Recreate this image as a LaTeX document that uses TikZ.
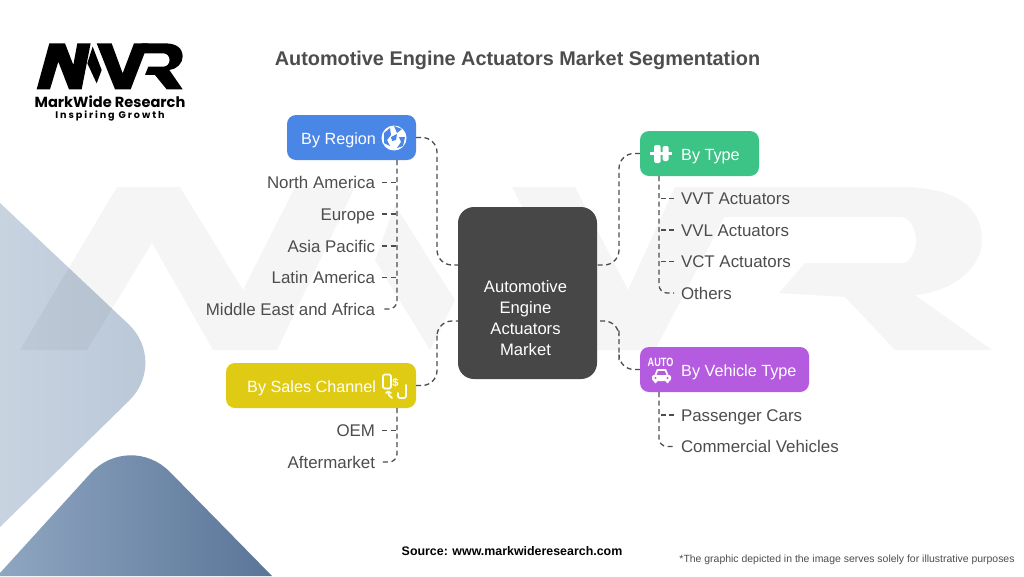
\documentclass[tikz,border=0pt]{standalone}
\usepackage{fontspec}
\setmainfont{Liberation Sans}
\newfontfamily\logofont{Poppins}
\definecolor{inkgrey}{HTML}{4D4D4D}
\definecolor{regionblue}{HTML}{4A86E6}
\definecolor{typegreen}{HTML}{3CC487}
\definecolor{vehiclepurple}{HTML}{B45BE0}
\definecolor{salesyellow}{HTML}{E0CB14}
\definecolor{centergrey}{HTML}{474747}
\definecolor{paleleft}{HTML}{C8D3E0}
\definecolor{paleright}{HTML}{B8C6D6}
\definecolor{deepleft}{HTML}{8FA6C1}
\definecolor{deepright}{HTML}{5A7598}
\tikzset{
  catbox/.style={rounded corners=9pt, minimum height=45pt, inner sep=0pt, outer sep=0pt},
  cattext/.style={text=white, font=\fontsize{16.2}{20}\selectfont, text height=12pt, text depth=0pt, inner sep=0pt},
  leaf/.style={text=inkgrey, font=\fontsize{16.9}{20}\selectfont, text height=12pt, text depth=0pt, inner xsep=7pt, inner ysep=0pt, outer sep=0pt},
  dashline/.style={draw=inkgrey, line width=1.3pt, dash pattern=on 5pt off 3.5pt},
  icon/.style={fill=white, draw=none},
  iconline/.style={draw=white, line width=1.7pt, line cap=round}
}
\begin{document}
\begin{tikzpicture}[x=1pt, y=-1pt]
    \useasboundingbox (0,0) rectangle (1024,576);
    \fill[white] (0,0) rectangle (1024,576);

    % Fondo
    \shade[left color=paleleft, right color=paleright] (0,203) [rounded corners=55pt] -- (168.6,362) [sharp corners] -- (0,527) -- cycle;
    \shade[left color=deepleft, right color=deepright] (0,573) [rounded corners=58pt] -- (129.4,430.6) [sharp corners] -- (272,576) -- (0,576) -- cycle;

    % Marca de agua
    \fill[black, opacity=0.04]
        (20,350) -- (87,350) -- (152,243) -- (213,350) -- (277,350) -- (355,187) -- (295,187) -- (243,290) -- (180,187) -- (117,187) -- cycle
        (395,205) -- (455,300) -- (430,350) -- (375,260) -- cycle
        (512,187) -- (575,187) -- (628,290) -- (675,187) -- (740,187) -- (655,350) -- (595,350) -- cycle
        (689,187) -- (900,187) .. controls (960,187) and (982,210) .. (982,240) .. controls (982,270) and (950,292) .. (915,295) -- (992,350) -- (895,350) -- (845,297) -- (779,293) -- (805,263) -- (905,263) .. controls (920,255) and (920,222) .. (902,217) -- (712,217) -- cycle;

    % Logo
    \begin{scope}[x=0.3333pt, y=-0.3333pt, shift={(0pt,-20pt)}]
        \fill[black] (110,208) -- (150,208) -- (175,125) -- (207,208) -- (245,208) -- (272,70) -- (232,70) -- (220,135) -- (195,70) -- (148,70) -- cycle;
        \fill[black] (278,80) -- (305,150) -- (290,190) -- (262,130) -- cycle;
        \fill[black] (290,70) -- (335,70) -- (368,160) -- (402,70) -- (445,70) -- (392,208) -- (345,208) -- cycle;
        \fill[black] (425,70) -- (495,70) .. controls (530,70) and (548,85) .. (548,110) .. controls (548,130) and (530,148) .. (508,150) -- (548,208) -- (500,208) -- (465,165) -- (435,165) -- (445,140) -- (490,140) .. controls (515,140) and (515,100) .. (490,100) -- (415,100) -- cycle;
    \end{scope}
    \node[inner sep=0pt, text height=10pt, text depth=0pt, font=\logofont\bfseries\fontsize{14.6}{16}\selectfont] (logoname) at (110,102) {MarkWide Research};
    \node[inner sep=0pt, text height=7pt, text depth=0pt, font=\logofont\bfseries\fontsize{9.6}{12}\selectfont\addfontfeatures{LetterSpace=20}] (logotag) at (110,114.5) {Inspiring Growth};

    % Titulo
    \node[text=inkgrey, inner sep=0pt, text height=14pt, text depth=0pt, font=\bfseries\fontsize{19.85}{24}\selectfont] (title) at (517.5,58) {Automotive Engine Actuators Market Segmentation};

    % Centro
    \node[fill=centergrey, rounded corners=16pt, minimum width=139pt, minimum height=172pt, inner sep=0pt, outer sep=0pt] (center) at (527.5,293) {};
    \node[text=white, align=center, inner sep=0pt, font=\fontsize{16.6}{21}\selectfont] (centertext) at (525.5,318) {Automotive\\Engine\\Actuators\\Market};

    % Categorias
    \node[catbox, fill=regionblue, minimum width=129pt] (region) at (351.5,137.5) {};
    \node[cattext, anchor=west] (regiontext) at (301,138) {By Region};
    \node[catbox, fill=typegreen, minimum width=119pt] (type) at (699.5,153.5) {};
    \node[cattext, anchor=west] (typetext) at (681,154) {By Type};
    \node[catbox, fill=vehiclepurple, minimum width=169pt] (vehicle) at (724.5,369.5) {};
    \node[cattext, anchor=west] (vehicletext) at (681,370) {By Vehicle Type};
    \node[catbox, fill=salesyellow, minimum width=190pt] (sales) at (321,385.5) {};
    \node[cattext, anchor=west] (salestext) at (247,386) {By Sales Channel};

    % Hojas
    \node[leaf, anchor=east] (namerica) at (382,182.5) {North America};
    \node[leaf, anchor=east] (europe) at (382,214) {Europe};
    \node[leaf, anchor=east] (asia) at (382,246) {Asia Pacific};
    \node[leaf, anchor=east] (latin) at (382,277.5) {Latin America};
    \node[leaf, anchor=east] (mea) at (382,309) {Middle East and Africa};
    \node[leaf, anchor=west] (vvt) at (674,198.5) {VVT Actuators};
    \node[leaf, anchor=west] (vvl) at (674,230) {VVL Actuators};
    \node[leaf, anchor=west] (vct) at (674,261.5) {VCT Actuators};
    \node[leaf, anchor=west] (others) at (674,293) {Others};
    \node[leaf, anchor=west] (cars) at (674,415) {Passenger Cars};
    \node[leaf, anchor=west] (commercial) at (674,446.5) {Commercial Vehicles};
    \node[leaf, anchor=east] (oem) at (382,430.5) {OEM};
    \node[leaf, anchor=east] (after) at (382,462) {Aftermarket};

    % Conectores al centro
    \draw[dashline, rounded corners=15pt] (region.east) -| (437,200) |- ([yshift=28pt]center.west);
    \draw[dashline, rounded corners=15pt] (sales.east) -| (437,350) |- ([yshift=-28pt]center.west);
    \draw[dashline, rounded corners=15pt] (type.west) -| (619,200) |- ([yshift=28pt]center.east);
    \draw[dashline, rounded corners=15pt] (vehicle.west) -| (619,345) |- ([yshift=-28pt]center.east);

    % Troncos
    \coordinate (regiontrunk) at (397,160);
    \coordinate (typetrunk) at (659,176);
    \coordinate (vehicletrunk) at (659,392);
    \coordinate (salestrunk) at (397,408);
    \draw[dashline, rounded corners=8pt] (regiontrunk) |- (mea.east);
    \draw[dashline] (namerica.east) -- (namerica.east -| regiontrunk);
    \draw[dashline] (europe.east) -- (europe.east -| regiontrunk);
    \draw[dashline] (asia.east) -- (asia.east -| regiontrunk);
    \draw[dashline] (latin.east) -- (latin.east -| regiontrunk);
    \draw[dashline, rounded corners=8pt] (typetrunk) |- (others.west);
    \draw[dashline] (vvt.west) -- (vvt.west -| typetrunk);
    \draw[dashline] (vvl.west) -- (vvl.west -| typetrunk);
    \draw[dashline] (vct.west) -- (vct.west -| typetrunk);
    \draw[dashline, rounded corners=8pt] (vehicletrunk) |- (commercial.west);
    \draw[dashline] (cars.west) -- (cars.west -| vehicletrunk);
    \draw[dashline, rounded corners=8pt] (salestrunk) |- (after.east);
    \draw[dashline] (oem.east) -- (oem.east -| salestrunk);

    % Icono globo
    \fill[icon] (394,138) circle (12.5);
    \fill[regionblue] (384,133) -- (390,128) -- (391,135) -- (387,140) -- (390,146) -- (384,143) -- cycle;
    \fill[regionblue] (394,126) -- (402,129) -- (397,133) -- cycle;
    \fill[regionblue] (399,137) -- (405,137) -- (403,146) -- (397,148) -- (401,142) -- cycle;
    \fill[regionblue] (391,137) -- (397,134) -- (396,140) -- (392,141) -- cycle;

    % Icono tipo
    \fill[icon] (650,151.5) rectangle (672,154.5);
    \fill[icon, rounded corners=1.5pt] (654,145) rectangle (660.5,163);
    \fill[icon, rounded corners=1.5pt] (662.5,146) rectangle (668.5,161);

    % Icono vehiculo
    \node[text=white, inner sep=0pt, xscale=0.76, font=\bfseries\fontsize{12}{12}\selectfont] (autotext) at (660.5,362.5) {AUTO};
    \fill[icon, rounded corners=2pt] (652,375) rectangle (671,381);
    \draw[iconline] (655.5,375) -- (657.5,370) -- (665.5,370) -- (667.5,375);
    \fill[icon] (655.5,381.5) circle (1.9);
    \fill[icon] (667.5,381.5) circle (1.9);
    \fill[vehiclepurple] (655.5,378) circle (1.1);
    \fill[vehiclepurple] (667.5,378) circle (1.1);

    % Icono canal
    \draw[iconline, rounded corners=1.5pt] (383,374.5) rectangle (391,388.5);
    \node[text=white, inner sep=0pt, font=\bfseries\fontsize{11}{12}\selectfont] (dollar) at (395.5,382.5) {\$};
    \draw[iconline, rounded corners=2pt] (406,385) -- (406,398) -- (398,398) -- (398,393);
    \draw[iconline] (392,398) .. controls (389,396.5) and (388,394) .. (388,391.5);
    \draw[iconline] (386,393) -- (388,391.5) -- (391,393);

    % Pie
    \node[inner sep=0pt, text height=9pt, text depth=0pt, font=\bfseries\fontsize{12.4}{15}\selectfont] (source) at (512,551) {Source: www.markwideresearch.com};
    \node[inner sep=0pt, text height=8pt, text depth=0pt, text=inkgrey, font=\fontsize{10.45}{13}\selectfont] (note) at (847,558) {*The graphic depicted in the image serves solely for illustrative purposes};
\end{tikzpicture}
\end{document}
